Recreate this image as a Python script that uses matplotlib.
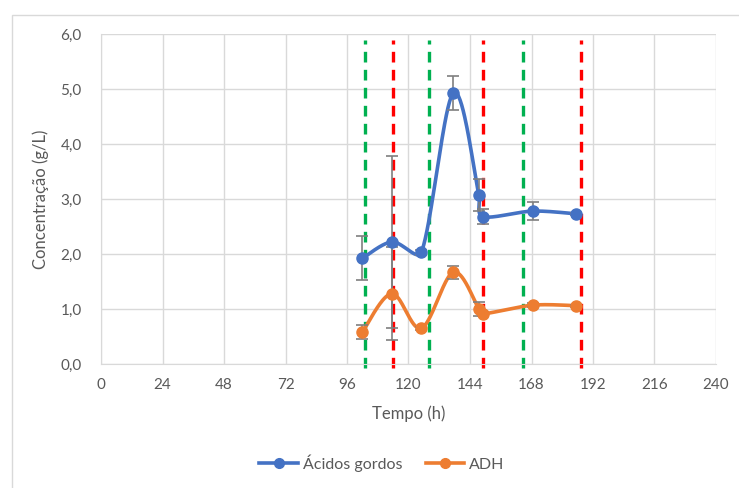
import numpy as np
import matplotlib
matplotlib.use("Agg")
import matplotlib.pyplot as plt
from matplotlib.patches import Rectangle

plt.rcParams['font.family'] = ['Lato', 'DejaVu Sans']

tempo = [102, 113.5, 125, 137.5, 147.5, 149, 168.5, 185.5]
acidos = [1.92, 2.22, 2.03, 4.93, 3.07, 2.68, 2.78, 2.73]
acidos_err = [0.40, 1.56, 0.04, 0.31, 0.29, 0.13, 0.17, 0.02]
adh = [0.58, 1.28, 0.65, 1.67, 1.00, 0.91, 1.07, 1.06]
adh_err = [0.13, 0.85, 0.03, 0.12, 0.13, 0.03, 0.04, 0.02]

linhas_verdes = [103, 128, 164.7]
linhas_vermelhas = [114, 149, 187.3]

xticks = list(range(0, 241, 24))
yticks = [0, 1, 2, 3, 4, 5, 6]

AZUL = '#4472C4'
LARANJA = '#ED7D31'
TEXTO = '#595959'

# escala em pixels por unidade (para suavizar no espaco do ecra)
SX = 615 / 240
SY = 330 / 6


def limitar(v, comp):
    n = np.linalg.norm(v)
    if n > comp and n > 0:
        return v * comp / n
    return v


def suavizar(x, y, n=40):
    # curva suave tipo Excel: bezier catmull-rom, com o ponto de controlo
    # limitado a 1/3 do comprimento do segmento
    pts = np.column_stack([np.asarray(x, float) * SX, np.asarray(y, float) * SY])
    out = []
    for i in range(len(pts) - 1):
        p0 = pts[i - 1] if i > 0 else pts[i]
        p1 = pts[i]
        p2 = pts[i + 1]
        p3 = pts[i + 2] if i + 2 < len(pts) else pts[i + 1]
        L = np.linalg.norm(p2 - p1)
        c1 = p1 + limitar((p2 - p0) / 6, L / 3)
        c2 = p2 - limitar((p3 - p1) / 6, L / 3)
        t = np.linspace(0, 1, n)[:, None]
        seg = ((1 - t) ** 3) * p1 + 3 * ((1 - t) ** 2) * t * c1 + 3 * (1 - t) * t ** 2 * c2 + t ** 3 * p2
        out.append(seg)
    out = np.vstack(out)
    return out[:, 0] / SX, out[:, 1] / SY


fig = plt.figure(figsize=(7.39, 4.88), dpi=100)
ax = fig.add_axes([101 / 739, 1 - 364 / 488, 615 / 739, 330 / 488])

# borda da area do grafico
fig.patches.append(Rectangle((12 / 739, -0.1), 1.2, 1 - 15 / 488 + 0.1,
                             transform=fig.transFigure, fill=False,
                             edgecolor='#D9D9D9', linewidth=1))

for xv in linhas_verdes:
    ax.plot([xv, xv], [-0.08, 5.9], color='#00B050', lw=2.4,
            dashes=(3.2, 2.2), clip_on=False, zorder=2)
for xv in linhas_vermelhas:
    ax.plot([xv, xv], [-0.08, 5.9], color='#FF0000', lw=2.4,
            dashes=(3.2, 2.2), clip_on=False, zorder=2)

for ys, err, cor, nome in [(acidos, acidos_err, AZUL, 'Ácidos gordos'),
                            (adh, adh_err, LARANJA, 'ADH')]:
    xs, ysm = suavizar(tempo, ys)
    ax.plot(xs, ysm, color=cor, lw=2.6, zorder=3, solid_capstyle='round')
    ax.errorbar(tempo, ys, yerr=err, fmt='none', ecolor='#7F7F7F',
                elinewidth=1.2, capsize=4, capthick=1.2, zorder=4)
    ax.plot(tempo, ys, 'o', color=cor, ms=8, zorder=5)
    ax.plot([], [], '-o', color=cor, lw=2.6, ms=7, label=nome)

ax.set_xlim(0, 240)
ax.set_ylim(0, 6)
ax.set_xticks(xticks)
ax.set_yticks(yticks)
ax.set_yticklabels([f'{v:.1f}'.replace('.', ',') for v in yticks])
ax.grid(True, color='#D9D9D9', lw=1)
ax.set_axisbelow(True)
for s in ['top', 'right']:
    ax.spines[s].set_visible(False)
ax.spines['left'].set_color('#D9D9D9')
ax.spines['bottom'].set_color('#D9D9D9')
ax.tick_params(length=0, colors=TEXTO, labelsize=11, pad=10)
ax.tick_params(axis='y', pad=14)

ax.set_xlabel('Tempo (h)', color=TEXTO, fontsize=12, labelpad=10)
ax.set_ylabel('Concentração (g/L)', color=TEXTO, fontsize=12, labelpad=8)

fig.legend(loc='center', bbox_to_anchor=(382 / 739, 1 - 463 / 488), ncol=2,
           frameon=False, fontsize=11.5, labelcolor=TEXTO, handlelength=2.4,
           columnspacing=1.5, handletextpad=0.3)

fig.savefig('out.png', dpi=100)
